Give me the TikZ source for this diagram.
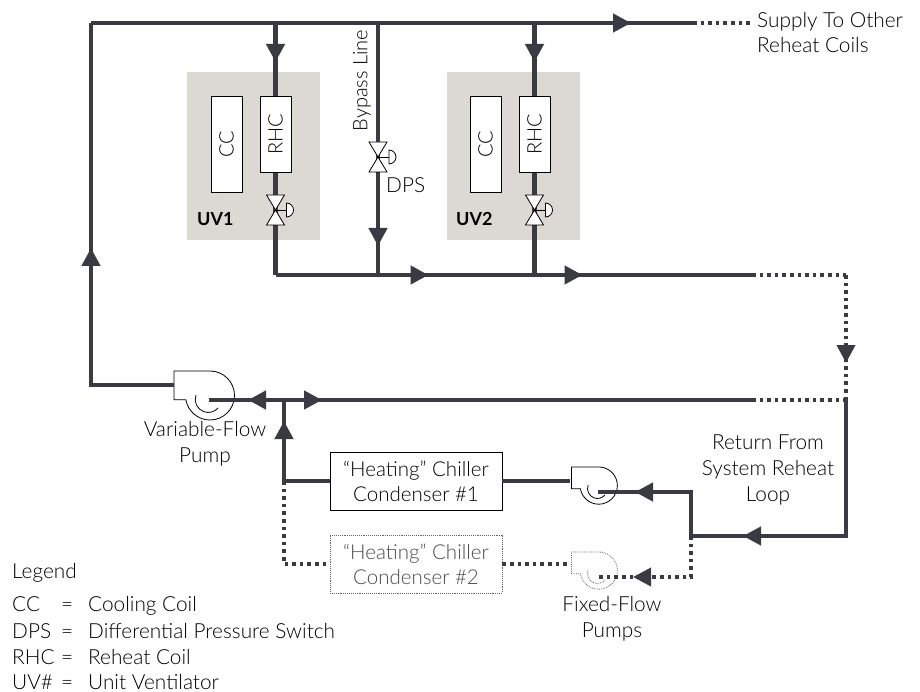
\documentclass[tikz,border=0pt]{standalone}
\usepackage{fontspec}
\setmainfont{Lato}[UprightFont=* Light, BoldFont=* Bold]
\usetikzlibrary{arrows.meta,calc,decorations.markings}
\definecolor{pipecol}{HTML}{3A3A42}
\definecolor{unitcol}{HTML}{DCD8D4}
\tikzset{
    pipe/.style = {
        draw=pipecol,
        line width=4.3pt,
        line join=miter,
        },
    pipe dots/.style = {
        pipe,
        line width=3.6pt,
        dash pattern=on 3.6pt off 4pt,
        },
    flow/.style = {
        postaction={decorate},
        decoration={markings,
            mark=at position #1 with {\arrow[pipecol]{Triangle[length=18pt,width=18pt]}}},
        },
    unit/.style = {
        fill = unitcol,
        minimum width=133pt,
        minimum height=168pt,
        },
    coil/.style = {
        draw,
        fill = white,
        minimum height=31pt,
        line width=0.7pt,
        rotate=90,
        inner sep=0pt,
        font=\fontsize{20}{20}\selectfont,
        },
    condenser/.style = {
        draw,
        fill = white,
        minimum width=172pt,
        minimum height=58pt,
        align=center,
        line width=0.9pt,
        inner sep=0pt,
        font=\fontsize{20.5}{25}\selectfont,
        },
    label/.style = {
        align=center,
        inner sep=0pt,
        font=\fontsize{20.8}{26}\selectfont,
        },
    legend/.style = {
        label,
        anchor=base west,
        },
    pics/valve/.style = {
        code = {
            \draw[fill=white, line width=0.8pt] (-9,-15) -- (9,-15) -- (-9,15) -- (9,15) -- cycle;
            \draw[line width=0.8pt] (0,0) -- (11,0);
            \draw[fill=white, line width=0.8pt] (11,-7) arc[start angle=-90, end angle=90, radius=7] -- cycle;
        }
    },
    pics/pump/.style = {
        code = {
            \draw[fill=white, line width=0.8pt, #1] (-35,-29) -- (1,-29)
                arc[start angle=-90, end angle=170, radius=24.5]
                -- (-35,-0.25) -- cycle;
            \draw[line width=0.8pt, #1] (-13,-5) arc[start angle=200, end angle=40, radius=13];
        }
    },
}
\begin{document}
\begin{tikzpicture}[x=1pt,y=-1pt]
    \useasboundingbox (0,0) rectangle (920,692);

    \node[unit] (uv1) at (253.5,156) {};
    \node[unit] (uv2) at (513.5,156) {};
    \node[coil, minimum width=96pt] (cc1) at (226.5,144) {CC};
    \node[coil, minimum width=96pt] (cc2) at (485.5,144) {CC};

    \coordinate (topleft) at (91,23);
    \coordinate (botleft) at (91,385);
    \coordinate (topend) at (693,23);
    \coordinate (dotend) at (751,23);
    \coordinate (branch1) at (275.5,23);
    \coordinate (bypass) at (378,23);
    \coordinate (branch2) at (534.5,23);
    \coordinate (valve1) at (275.5,210);
    \coordinate (valve2) at (534.5,210);
    \coordinate (valve3) at (378,157);
    \coordinate (ret1) at (275.5,275);
    \coordinate (ret2) at (378,275);
    \coordinate (ret3) at (534.5,275);
    \coordinate (retend) at (752,275);
    \coordinate (corner) at (846,275);
    \coordinate (mixend) at (752,400);
    \coordinate (rejoin) at (846,400);
    \coordinate (vfp) at (209,400);
    \coordinate (pumpin) at (174,385);
    \coordinate (tee) at (284,400);
    \coordinate (ffp1) at (598,492);
    \coordinate (ffp2) at (598,577);
    \coordinate (hub1) at (598,489);
    \coordinate (hub2) at (598,574);
    \coordinate (ffpin1) at (570,481);
    \coordinate (ffpin2) at (570,564);
    \coordinate (split) at (691,536);
    \coordinate (inner1) at (691,492);
    \coordinate (inner2) at (691,577);
    \coordinate (retbot) at (846,536);
    \coordinate (tee1) at (284,481);
    \coordinate (tee2) at (284,564);

    \node[condenser] (chl1) at (416,481) {“Heating” Chiller\\Condenser \#1};
    \node[condenser, densely dotted, draw=black!60, text=black!70] (chl2) at (416,564) {“Heating” Chiller\\Condenser \#2};

    \pic at (vfp) {pump={solid}};
    \pic[scale=0.76] at (hub1) {pump={solid}};
    \pic[scale=0.76] at (hub2) {pump={densely dotted, draw=black!60}};

    % supply side
    \draw[pipe, flow=220pt] (pumpin) -- (botleft) -- (topleft);
    \draw[pipe, flow=540pt] (topleft) -- (topend);
    \draw[pipe dots] (topend) -- (dotend);
    \draw[pipe, flow=39pt] (branch1) -- (valve1);
    \draw[pipe, flow=223pt] (bypass) -- (ret2);
    \draw[pipe, flow=39pt] (branch2) -- (valve2);
    \draw[pipe] (valve1) -- (ret1);
    \draw[pipe] (valve2) -- (ret3);

    % return side
    \draw[pipe, flow=153pt] (ret1) -- (ret3);
    \draw[pipe, flow=48pt] (ret3) -- (retend);
    \draw[pipe dots] (retend) -- (corner);
    \draw[pipe dots, flow=88pt] (corner) -- (rejoin);
    \draw[pipe dots] (mixend) -- (rejoin);
    \draw[pipe, flow=38pt] (tee) -- (mixend);
    \draw[pipe, flow=36pt] (tee) -- (vfp);
    \draw[pipe, flow=60pt] (tee1) -- (tee);
    \draw[pipe] (tee1) -- (chl1.west);
    \draw[pipe dots] (tee1) -- (tee2) -- (chl2.west);
    \draw[pipe, flow=239pt] (rejoin) -- (retbot) -- (split);
    \draw[pipe, flow=100pt] (split) -- (inner1) -- (ffp1);
    \draw[pipe dots, flow=99pt] (split) -- (inner2) -- (ffp2);
    \draw[pipe] (chl1.east) -- (ffpin1);
    \draw[pipe dots] (chl2.east) -- (ffpin2);

    \node[coil, minimum width=76pt] (rhc1) at (275.5,134) {RHC};
    \node[coil, minimum width=76pt] (rhc2) at (534.5,134) {RHC};
    \pic at (valve1) {valve};
    \pic at (valve2) {valve};
    \pic at (valve3) {valve};

    \node[label, anchor=base west] (supply) at (757,28) {Supply To Other};
    \node[label, anchor=base west] (coils) at (757,53) {Reheat Coils};
    \node[label, rotate=90, font=\fontsize{20}{26}\selectfont] (bypname) at (362,80.5) {Bypass Line};
    \node[label, anchor=base west] (dps) at (386,193) {DPS};
    \node[label, anchor=base west, font=\fontsize{18}{20}\selectfont\bfseries] (name1) at (197,226) {UV1};
    \node[label, anchor=base west, font=\fontsize{18}{20}\selectfont\bfseries] (name2) at (456,226) {UV2};
    \node[label] (vfpname) at (205,444) {Variable-Flow\\Pump};
    \node[label] (retname) at (768,470) {Return From\\System Reheat\\Loop};
    \node[label] (ffpname) at (612,619) {Fixed-Flow\\Pumps};

    \node[legend] (lgd) at (12,578) {Legend};
    \foreach \y/\a/\b in {611/CC/Cooling Coil, 638/DPS/Differential Pressure Switch, 664/RHC/Reheat Coil, 689/UV\#/Unit Ventilator}{
        \node[legend] (lgd\y a) at (12,\y) {\a};
        \node[legend] (lgd\y e) at (61,\y) {=};
        \node[legend] (lgd\y b) at (88,\y) {\b};
    }
\end{tikzpicture}
\end{document}
